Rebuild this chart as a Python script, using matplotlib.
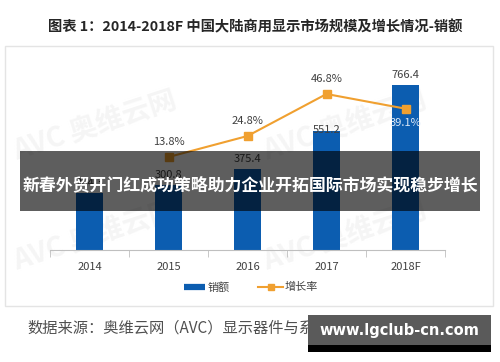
import numpy as np
from matplotlib import pyplot as plt
from matplotlib.patches import Rectangle
from matplotlib.lines import Line2D

plt.rcParams['font.family'] = ['Noto Sans CJK SC', 'DejaVu Sans']

# datos
anios = ["2014", "2015", "2016", "2017", "2018F"]
ventas = [264.3, 300.8, 375.4, 551.2, 766.4]
crecimiento = [13.8, 24.8, 46.8, 39.1]   # 2015 .. 2018F
anios_crec = [1, 2, 3, 4]

azul = "#0C5DB0"
naranja = "#F0A030"
W, H = 500, 362

fig = plt.figure(figsize=(W / 100, H / 100), dpi=100)
fig.patch.set_facecolor("white")

def fx(x):
    return x / W

def fy(y):
    return 1 - y / H

# marco del grafico
fig.add_artist(Rectangle((fx(5), fy(306)), fx(488), 260 / H, transform=fig.transFigure,
                         facecolor="white", edgecolor="#e4e4e4", lw=1, zorder=-2))

# marcas de agua AVC
for (x, y) in [(95, 125), (345, 125), (95, 235), (345, 235)]:
    fig.text(fx(x), fy(y), "AVC 奥维云网", fontsize=20, fontweight="bold", color="#f5f5f5",
             rotation=18, ha="center", va="center", zorder=-1)

ax = fig.add_axes([fx(50), fy(250), 395 / W, 190 / H])
ax.patch.set_alpha(0)
x = np.arange(len(anios))
ax.bar(x, ventas, width=0.33, color=azul, zorder=2)
ax.set_xlim(-0.5, 4.5)
ax.set_ylim(0, 882.5)
ax.set_yticks([])
for s in ["top", "left", "right"]:
    ax.spines[s].set_visible(False)
ax.spines["bottom"].set_color("#bfbfbf")
ax.set_xticks(x)
ax.set_xticklabels(anios, fontsize=8, color="#404040")
ax.tick_params(axis="x", length=0, pad=9)
ax.set_xticks(np.arange(-0.5, 5, 1), minor=True)
ax.tick_params(axis="x", which="minor", length=5, color="#bfbfbf", direction="out")

offs_barra = [5, 5, 5, -4, 5]
for i, v in enumerate(ventas):
    ax.annotate("%.1f" % v, (x[i], v), xytext=(0, offs_barra[i] * 0.72), textcoords="offset points",
                ha="center", va="bottom", fontsize=8, color="#404040", zorder=3)

ax2 = ax.twinx()
ax2.set_ylim(-34.9, 64.6)
ax2.axis("off")
ax2.plot(anios_crec, crecimiento, '-', color=naranja, lw=1.5, marker="s", markersize=5.5, zorder=4)
offs_linea = [11, 11, 11, -10]
for i, c in enumerate(crecimiento):
    col = "#404040" if offs_linea[i] > 0 else "#dde9f7"
    ax2.annotate("%.1f%%" % c, (anios_crec[i], c), xytext=(0, offs_linea[i]), textcoords="offset points",
                 ha="center", va="center", fontsize=8, color=col, zorder=5)

# leyenda
fig.add_artist(Line2D([fx(184), fx(205)], [fy(287), fy(287)], transform=fig.transFigure,
                      color=azul, lw=4.5, solid_capstyle="butt"))
fig.text(fx(208), fy(287), "销额", fontsize=8, color="#404040", va="center", ha="left")
fig.add_artist(Line2D([fx(258), fx(283)], [fy(287), fy(287)], transform=fig.transFigure,
                      color=naranja, lw=1.5))
fig.add_artist(Line2D([fx(270.5)], [fy(287)], transform=fig.transFigure,
                      color=naranja, marker="s", markersize=5, lw=0))
fig.text(fx(285), fy(287), "增长率", fontsize=8, color="#404040", va="center", ha="left")

# titulo
fig.text(fx(48), fy(27), "图表 1：2014-2018F 中国大陆商用显示市场规模及增长情况-销额", fontsize=10.3,
         fontweight="bold", color="#262626", ha="left", va="center")

# fuente
fig.text(fx(27), fy(328), "数据来源：奥维云网（AVC）显示器件与系统大数据，单位：亿元", fontsize=11,
         color="#505050", ha="left", va="center")

# banda superpuesta
fig.add_artist(Rectangle((fx(20), fy(211)), fx(460), 60 / H, transform=fig.transFigure,
                         facecolor="black", alpha=0.63, edgecolor="none", zorder=10))
fig.text(fx(250), fy(185), "新春外贸开门红成功策略助力企业开拓国际市场实现稳步增长", fontsize=12.2,
         fontweight="bold", color="white", ha="center", va="center", zorder=11)

# marca web
fig.add_artist(Rectangle((fx(308), fy(345)), fx(183), 30 / H, transform=fig.transFigure,
                         facecolor="#5a5a5a", edgecolor="none", zorder=10))
fig.add_artist(Rectangle((fx(308), fy(352)), fx(183), 7 / H, transform=fig.transFigure,
                         facecolor="black", edgecolor="none", zorder=10))
fig.text(fx(399), fy(331), "www.lgclub-cn.com", fontsize=10.5, fontweight="bold",
         color="white", ha="center", va="center", zorder=11, family="DejaVu Sans")

plt.savefig("out.png", dpi=100)
